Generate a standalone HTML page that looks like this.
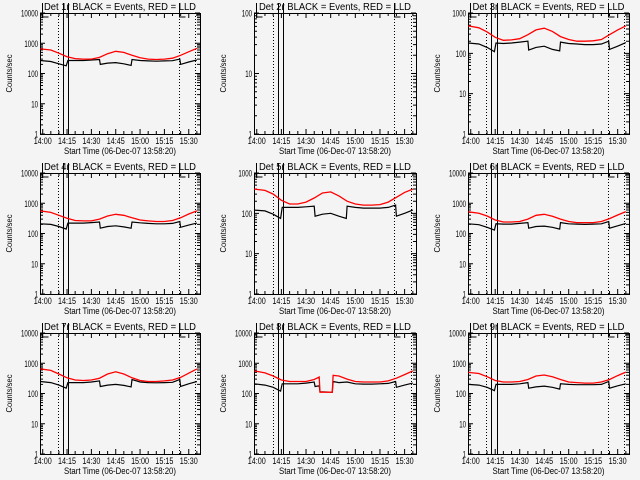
<!DOCTYPE html>
<html><head><meta charset="utf-8">
<style>
html,body{margin:0;padding:0;background:#f4f4f4;}
svg{display:block;font-family:"Liberation Sans",sans-serif;}
</style></head>
<body>
<svg id="chart" width="640" height="480" viewBox="0 0 640 480" xmlns="http://www.w3.org/2000/svg">
<rect x="0" y="0" width="640" height="480" fill="#f4f4f4"/>
</svg>
<script>
// shared time arrays (minutes after 14:00)
const redTimes = [-1.5,5,10,15,20,25,30,35,40,45,50,55,60,65,70,75,80,85,90,95];
const blackTimes = [-1.5,5,10,14.5,15.5,20,25,30,35,35.5,40,45,50,54.5,55,60,65,70,75,80,84.5,85,90,95];
const det8RedTimes = [-1.5,5,10,15,20,25,30,35,38,38.5,46,46.5,50,55,60,65,70,75,80,85,90,95];
const det8BlackTimes = [-1.5,5,10,14.5,15.5,20,25,30,35,35.5,38,38.5,46,46.5,50,55,60,65,70,75,80,84.5,85,90,95];
const detNames = ["1r","2r","3r","4r","5r","6r","7r","8r","9r"];
const yDecades = [4,2,3,4,3,4,4,4,4];
const red1 = [650,600,470,360,310,300,300,340,450,540,500,400,330,300,290,300,320,400,520,680];
const black1 = [270,250,210,180,270,270,270,280,290,200,220,230,210,185,290,270,260,255,260,265,300,200,240,280];
const red2 = [];
const black2 = [];
const red3 = [480,430,340,250,210,215,230,290,380,420,350,260,220,200,200,205,220,290,380,480];
const black3 = [180,170,140,110,180,175,180,190,200,120,140,150,125,115,190,175,170,165,165,170,200,125,150,185];
const red4 = [560,500,400,320,270,260,260,300,380,430,400,330,280,260,250,250,270,330,440,560];
const black4 = [210,200,170,140,220,220,220,230,240,150,170,180,165,150,240,225,215,210,210,215,250,160,190,220];
const red5 = [400,370,300,210,170,170,190,240,320,340,270,200,170,160,160,165,190,250,330,400];
const black5 = [120,115,95,75,140,140,140,145,150,85,95,100,85,75,150,140,135,135,135,140,160,85,100,120];
const red6 = [520,470,380,280,240,240,250,300,400,430,370,300,250,230,230,230,250,310,410,530];
const black6 = [210,195,160,130,210,205,205,215,230,150,170,175,160,140,230,210,205,200,205,210,250,150,180,215];
const red7 = [650,580,440,330,280,270,280,320,440,520,440,330,270,250,250,260,280,340,470,650];
const black7 = [250,230,190,150,230,230,230,240,260,170,190,200,185,165,290,240,230,225,230,235,290,170,210,250];
const red8 = [560,480,380,280,250,250,250,290,350,110,110,400,380,300,250,240,240,240,260,320,420,560];
const black8 = [210,190,160,120,210,210,210,220,240,170,180,115,110,250,230,240,210,205,205,210,215,250,160,190,220];
const red9 = [500,460,360,270,240,240,250,290,380,410,360,290,240,230,220,220,240,290,390,510];
const black9 = [200,190,160,125,200,200,200,210,230,150,165,175,160,140,210,200,195,195,195,200,250,150,180,210];
const markerTimes = [9.6, 12.7, 15.8, 83.8, 94.1];
const tickLabels = ["14:00","14:15","14:30","14:45","15:00","15:15","15:30"];

const redSets = [red1,red2,red3,red4,red5,red6,red7,red8,red9];
const blackSets = [black1,black2,black3,black4,black5,black6,black7,black8,black9];
const svg = document.getElementById('chart');
const NS = 'http://www.w3.org/2000/svg';
function mk(tag, attrs, parent){
  const e = document.createElementNS(NS, tag);
  for (const k in attrs) e.setAttribute(k, attrs[k]);
  (parent||svg).appendChild(e);
  return e;
}
const colLeft = [40,254,468], colRight = [200,416,629];
const rowTop = [13,173,333], rowBot = [134,294,454];
const tStart = -1.667, tSpan = 98.6;

for (let p=0;p<9;p++){
  const c = p%3, r = Math.floor(p/3);
  const L = colLeft[c], R = colRight[c], T = rowTop[r], B = rowBot[r];
  const dec = yDecades[p];
  const xs = t => L + (t - tStart) * (R - L) / tSpan;
  const ys = v => B - Math.log10(v) * (B - T) / dec;
  const g = mk('g', {});
  
  

  const title = mk('text', {x:(L+R)/2, y:T-3, 'text-anchor':'middle', 'font-size':'10', fill:'#000', textLength:'152', lengthAdjust:'spacingAndGlyphs'}, g);
  title.textContent = 'Det ' + detNames[p] + ' BLACK = Events, RED = LLD';
  
  

  const box = mk('rect', {x:L+0.5, y:T+0.5, width:R-L, height:B-T, fill:'none', stroke:'#000', 'stroke-width':'1'}, g);
  
  

  let td = '';
  for (let d=0; d<=dec; d++){
    const y = ys(Math.pow(10,d));
    td += `M${L},${y}h5M${R},${y}h-5`;
    const s = String(Math.pow(10,d));
    const lab = mk('text', {x:L-2, y:y+3.5, 'text-anchor':'end', 'font-size':'9', fill:'#000', textLength:String(s.length*3.4), lengthAdjust:'spacingAndGlyphs'}, g);
    lab.textContent = s;
    
    
    if (d<dec) for (let m=2;m<10;m++){
      const ym = ys(m*Math.pow(10,d));
      td += `M${L},${ym}h3M${R},${ym}h-3`;
    }
  }
  for (let t=0; t<=95; t+=5){
    const x = xs(t);
    const len = (t%15===0)?5:3;
    td += `M${x},${B}v-${len}M${x},${T}v${len}`;
  }
  const ticks = mk('path', {d:td, stroke:'#000', 'stroke-width':'1', fill:'none'}, g);
  
  
  tickLabels.forEach((s,i)=>{
    const lab = mk('text', {x:xs(i*15), y:B+10, 'text-anchor':'middle', 'font-size':'9', fill:'#000', textLength:'18', lengthAdjust:'spacingAndGlyphs'}, g);
    lab.textContent = s;
    
    
  });
  const xt = mk('text', {x:(L+R)/2, y:B+20, 'text-anchor':'middle', 'font-size':'9', fill:'#000', textLength:'112', lengthAdjust:'spacingAndGlyphs'}, g);
  xt.textContent = 'Start Time (06-Dec-07 13:58:20)';
  
  
  const yx = L - 28, yy = (T+B)/2;
  const yt = mk('text', {x:yx, y:yy, 'text-anchor':'middle', 'font-size':'8.5', fill:'#000', transform:`rotate(-90 ${yx} ${yy})`, textLength:'38', lengthAdjust:'spacingAndGlyphs'}, g);
  yt.textContent = 'Counts/sec';
  
  

  markerTimes.forEach((t,i)=>{
    const x = Math.round(xs(t)) + 0.5;
    const solid = (i===1||i===2);
    const ln = mk('line', {x1:x, x2:x, y1: solid ? T-10 : T, y2:B, stroke:'#000', 'stroke-width':'1', 'stroke-dasharray': solid ? '' : '1,2'}, g);
    
    
  });
  [L+2.5, Math.round(xs(markerTimes[3]))+0.5].forEach(x=>{
    const br = mk('path', {d:`M${x},${T-10}V${T+4}H${x+6}`, stroke:'#000', fill:'none', 'stroke-width':'1'}, g);
    
    
  });

  const rt = p===7 ? det8RedTimes : redTimes;
  const bt = p===7 ? det8BlackTimes : blackTimes;
  const rv = redSets[p], bv = blackSets[p];
  if (bv.length){
    const pts = bv.map((v,i)=>`${xs(bt[i]).toFixed(1)},${ys(v).toFixed(1)}`).join(' ');
    const pl = mk('polyline', {points:pts, fill:'none', stroke:'#000', 'stroke-width':'1.2'}, g);
    
    
  }
  if (rv.length){
    const pts = rv.map((v,i)=>`${xs(rt[i]).toFixed(1)},${ys(v).toFixed(1)}`).join(' ');
    const pl = mk('polyline', {points:pts, fill:'none', stroke:'#ff0000', 'stroke-width':'1.3'}, g);
    
    
  }
}
</script>
</body></html>
